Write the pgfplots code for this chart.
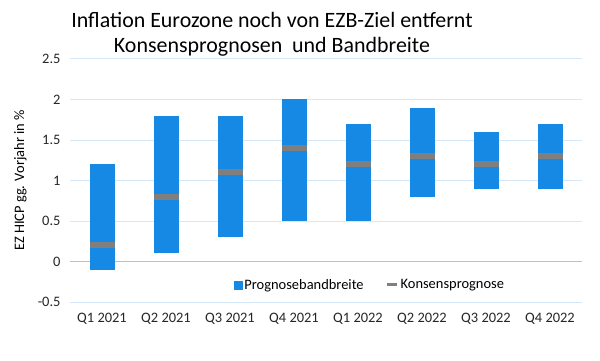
\documentclass[border=0pt]{standalone}
\usepackage{pgfplots}
\pgfplotsset{compat=1.18}
\usepackage{pgfplotstable}
\usepackage{fontspec}
\setmainfont{Carlito}
\definecolor{barblue}{HTML}{1589E4}
\definecolor{consgray}{HTML}{7F7F7F}
\definecolor{gridblue}{HTML}{D6E8F7}
\definecolor{zerogray}{HTML}{C0C0C0}
\pgfplotstableread{
x low high cons
0 -0.1 1.2 0.2
1 0.1 1.8 0.8
2 0.3 1.8 1.1
3 0.5 2.0 1.4
4 0.5 1.7 1.2
5 0.8 1.9 1.3
6 0.9 1.6 1.2
7 0.9 1.7 1.3
}\data
\begin{document}
\begin{tikzpicture}[x=1bp,y=1bp]
\useasboundingbox (0,0) rectangle (600,360);
\node[font=\fontsize{22}{24}\selectfont, align=center] at (272,326) {Inflation Eurozone noch von EZB-Ziel entfernt\\[1bp]Konsensprognosen\ \ und Bandbreite};
\begin{axis}[
  at={(70bp,58bp)}, anchor=south west,
  scale only axis, width=512bp, height=243bp,
  xmin=-0.5, xmax=7.5, ymin=-0.5, ymax=2.5,
  ytick={-0.5,0,0.5,1,1.5,2,2.5},
  xtick=data,
  xticklabels={Q1 2021,Q2 2021,Q3 2021,Q4 2021,Q1 2022,Q2 2022,Q3 2022,Q4 2022},
  axis line style={draw=none},
  major tick length=0pt,
  ymajorgrids, grid style={gridblue, line width=1bp},
  extra y ticks={0}, extra y tick labels={},
  extra y tick style={grid style={zerogray, line width=1bp}},
  tick label style={font=\fontsize{14.5}{16}\selectfont, text=black!85},
  /pgf/number format/assume math mode=true,
  yticklabel style={xshift=-6bp},
  xticklabel style={yshift=-8bp},
  ylabel={EZ HICP gg. Vorjahr in \%},
  every axis y label/.style={at={(ticklabel cs:0.5)}, rotate=90, anchor=center, yshift=14bp, font=\fontsize{14.5}{16}\selectfont},
  legend style={at={(0.586,0.07)}, anchor=center, draw=none, fill=none,
    font=\fontsize{14.5}{16}\selectfont, legend columns=2,
    /tikz/every even column/.append style={column sep=20bp}},
  clip=false,
]
\addplot[draw=none, mark=none, forget plot,
  error bars/.cd, y dir=both, y explicit,
  error mark=none,
  error bar style={line width=25bp, draw=barblue}]
  table[x=x, y expr={(\thisrow{low}+\thisrow{high})/2}, y error expr={(\thisrow{high}-\thisrow{low})/2}] {\data};
\addplot[only marks, mark=-, mark size=12.5bp, mark options={line width=6bp, draw=consgray}, forget plot]
  table[x=x, y=cons] {\data};
\addlegendimage{legend image code/.code={\fill[barblue] (0bp,-4bp) rectangle (8bp,4bp);}}
\addlegendentry{Prognosebandbreite}
\addlegendimage{legend image code/.code={\draw[consgray, line width=3bp] (0bp,0bp) -- (10bp,0bp);}}
\addlegendentry{Konsensprognose}
\end{axis}
\end{tikzpicture}
\end{document}
